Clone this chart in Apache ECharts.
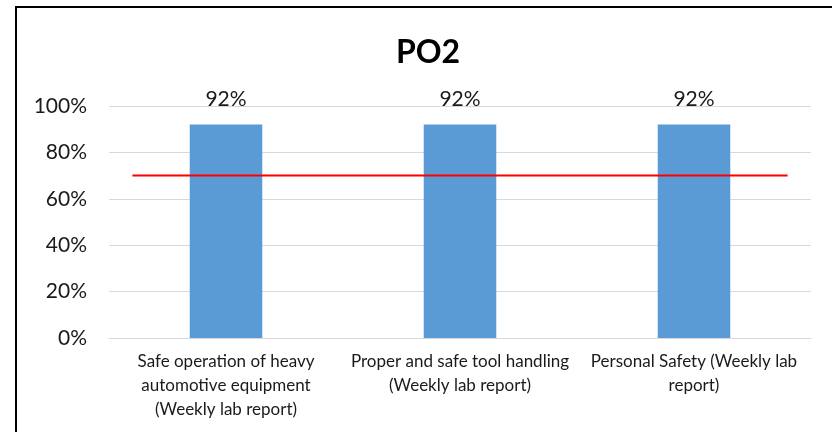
<!DOCTYPE html>
<html>
<head>
<meta charset="utf-8">
<script src="https://cdn.jsdelivr.net/npm/echarts@6/dist/echarts.min.js"></script>
<style>
html,body{margin:0;padding:0;overflow:hidden;background:#fff;}
#chart{position:absolute;left:0;top:0;width:832px;height:432px;}
#frame{position:absolute;left:15px;top:6px;width:900px;height:500px;border:2px solid #000;pointer-events:none;}
</style>
</head>
<body>
<div id="chart"></div>
<div id="frame"></div>
<script>
const titleText = "PO2";
const categories = [
  "Safe operation of heavy\nautomotive equipment\n(Weekly lab report)",
  "Proper and safe tool handling\n(Weekly lab report)",
  "Personal Safety (Weekly lab\nreport)"
];
const values = [0.92, 0.92, 0.92];
const targetValue = 0.70;
const yTicks = [0, 0.2, 0.4, 0.6, 0.8, 1.0];

const FONT = "Lato, 'Open Sans', sans-serif";
const chart = echarts.init(document.getElementById('chart'), null, {renderer: 'canvas'});
chart.setOption({
  animation: false,
  backgroundColor: '#fff',
  title: {
    text: titleText,
    left: 423,
    textAlign: 'center',
    top: 32,
    textStyle: {fontFamily: FONT, fontSize: 32, fontWeight: 'bold', color: '#000'}
  },
  grid: {left: 109, right: 21, top: 106, bottom: 94, containLabel: false},
  xAxis: [
    {
      type: 'category',
      data: categories,
      axisLine: {show: true, lineStyle: {color: '#d9d9d9', width: 1}},
      axisTick: {show: false},
      axisLabel: {fontFamily: FONT, fontSize: 17, color: '#1a1a1a', lineHeight: 24, margin: 12, interval: 0}
    },
    {
      type: 'value', min: 0, max: 30, show: false
    }
  ],
  yAxis: {
    type: 'value',
    min: yTicks[0],
    max: yTicks[yTicks.length - 1],
    interval: yTicks[1] - yTicks[0],
    axisLine: {show: false},
    axisTick: {show: false},
    splitLine: {lineStyle: {color: '#d9d9d9', width: 1}},
    axisLabel: {
      fontFamily: FONT, fontSize: 21, color: '#1a1a1a', margin: 22,
      formatter: v => Math.round(v * 100) + '%'
    }
  },
  series: [
    {
      type: 'bar',
      data: values,
      barWidth: '31%',
      itemStyle: {color: '#5b9bd5'},
      label: {
        show: true, position: 'top', distance: 15,
        fontFamily: FONT, fontSize: 21, color: '#1a1a1a',
        formatter: p => Math.round(p.value * 100) + '%'
      },
      z: 2
    },
    {
      type: 'line',
      xAxisIndex: 1,
      data: [[1, targetValue], [29, targetValue]],
      symbol: 'none',
      lineStyle: {color: '#ff0000', width: 2},
      z: 3
    }
  ]
});
</script>
</body>
</html>
